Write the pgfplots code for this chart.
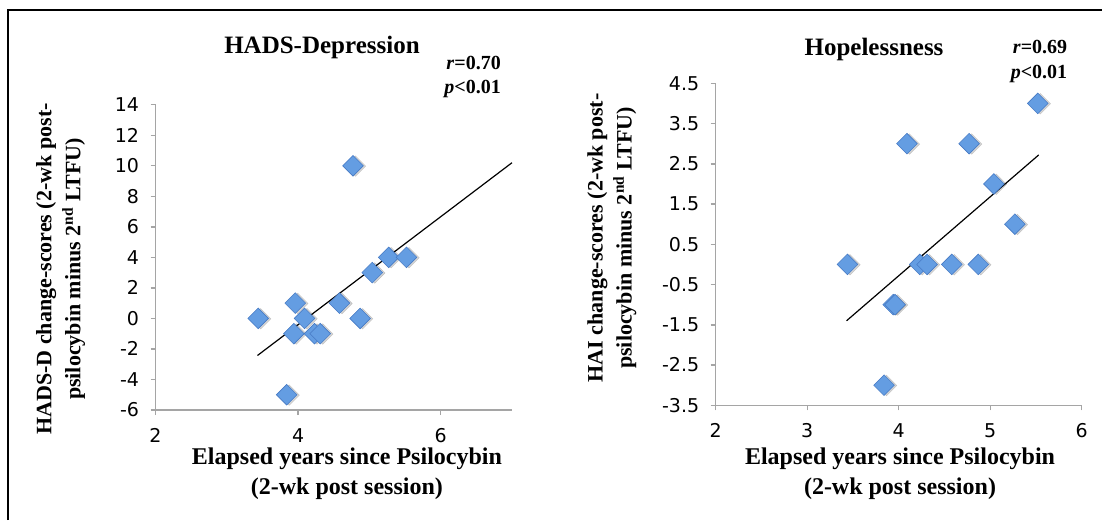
\documentclass[border=0pt]{standalone}
\usepackage{fontspec}
\setmainfont{Liberation Serif}
\newfontfamily\tickfont{DejaVu Sans}
\usepackage{pgfplots}
\pgfplotsset{compat=1.18}
\definecolor{axgray}{RGB}{165,165,165}
\definecolor{mkfill}{RGB}{100,157,226}
\definecolor{mkdraw}{RGB}{70,122,196}
\tikzset{rp/.style={anchor=east, inner sep=0pt, font=\bfseries\fontsize{20}{20}\selectfont}}
\pgfplotsset{
 myax/.style={
  scale only axis,
  anchor=south west,
  axis x line*=bottom, axis y line*=left,
  axis line style={axgray, line width=1.4pt},
  tick style={axgray, line width=1.4pt},
  tick align=outside,
  major tick length=5pt,
  tick label style={font=\tickfont\fontsize{19}{19}\selectfont},
  xticklabel style={yshift=-10pt},
  yticklabel style={xshift=-8pt},
  xlabel style={font=\bfseries\fontsize{24}{30}\selectfont, align=center, anchor=center},
  ylabel style={font=\bfseries\fontsize{22}{29}\selectfont, align=center, anchor=center},
  title style={font=\bfseries\fontsize{25}{30}\selectfont, anchor=center},
  clip=false,
 },
 pts/.style={only marks, mark=square*, mark size=7.3pt, mark options={rotate=45, fill=mkfill, draw=mkdraw, line width=0.6pt}},
 shd/.style={only marks, mark=square*, mark size=7.3pt, mark options={rotate=45, fill=black, draw=none, opacity=0.16, xshift=1.5pt, yshift=-2pt}},
}
\pgfplotstableread{
x y
3.44 0
3.96 1
4.09 0
3.94 -1
4.23 -1
4.31 -1
4.58 1
4.87 0
4.77 10
5.04 3
5.27 4
5.52 4
3.84 -5
}\hadsdata
\pgfplotstableread{
x y
3.44 0
4.09 3
4.77 3
5.52 4
5.04 2
5.27 1
4.23 0
4.31 0
4.58 0
4.87 0
3.94 -1
3.96 -1
3.84 -3
}\haidata
\begin{document}
\begin{tikzpicture}
\path[use as bounding box] (0,0) rectangle (1102pt,520pt);
\draw[line width=2pt] (8pt,0pt) -- (8pt,510pt) -- (1102pt,510pt);
\begin{axis}[myax,
  at={(155.5pt,110pt)}, width=356.5pt, height=305.3pt,
  xmin=2, xmax=7, ymin=-6, ymax=14,
  xtick={2,4,6}, xticklabels={2,4,6},
  ytick={-6,-4,-2,0,2,4,6,8,10,12,14},
  yticklabels={-6,-4,-2,0,2,4,6,8,10,12,14},
  title={HADS-Depression},
  title style={at={(axis description cs:0.467,1.167)}},
  xlabel={Elapsed years since Psilocybin\\(2-wk post session)},
  xlabel style={at={(axis description cs:0.537,-0.21)}},
  ylabel={HADS-D change-scores (2-wk post-\\psilocybin minus 2\textsuperscript{nd} LTFU)},
  ylabel style={at={(axis description cs:-0.266,0.462)}},
]
\addplot[shd] table[x=x,y=y] {\hadsdata};
\addplot[pts] table[x=x,y=y] {\hadsdata};
\addplot[black, line width=1.2pt] coordinates {(3.43,-2.43) (7,10.2)};
\node[rp] at (axis description cs:0.969,1.137) {\textit{r}=0.70};
\node[rp] at (axis description cs:0.969,1.052) {\textit{p}<0.01};
\end{axis}
\begin{axis}[myax,
  at={(715.7pt,114.7pt)}, width=366pt, height=322pt,
  xmin=2, xmax=6, ymin=-3.5, ymax=4.5,
  xtick={2,3,4,5,6}, xticklabels={2,3,4,5,6},
  ytick={-3.5,-2.5,-1.5,-0.5,0.5,1.5,2.5,3.5,4.5},
  yticklabels={-3.5,-2.5,-1.5,-0.5,0.5,1.5,2.5,3.5,4.5},
  title={Hopelessness},
  title style={at={(axis description cs:0.4325,1.085)}},
  xlabel={Elapsed years since Psilocybin\\(2-wk post session)},
  xlabel style={at={(axis description cs:0.5036,-0.214)}},
  ylabel={HAI change-scores (2-wk post-\\psilocybin minus 2\textsuperscript{nd} LTFU)},
  ylabel style={at={(axis description cs:-0.284,0.52)}},
]
\addplot[shd] table[x=x,y=y] {\haidata};
\addplot[pts] table[x=x,y=y] {\haidata};
\addplot[black, line width=1.2pt] coordinates {(3.43,-1.4) (5.53,2.72)};
\node[rp] at (axis description cs:0.961,1.113) {\textit{r}=0.69};
\node[rp] at (axis description cs:0.961,1.03) {\textit{p}<0.01};
\end{axis}
\end{tikzpicture}
\end{document}
